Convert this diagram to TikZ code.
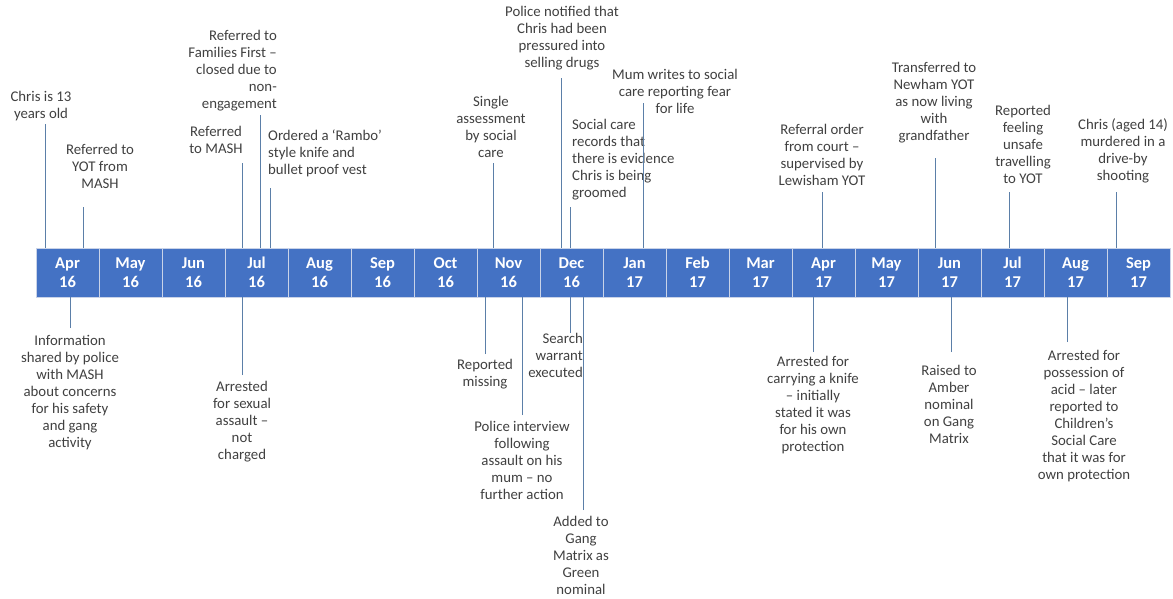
\documentclass[tikz,border=0pt]{standalone}
\usepackage{fontspec}
\setmainfont{Carlito}
\definecolor{barblue}{HTML}{4472C4}
\definecolor{cellline}{HTML}{C9D3E8}
\definecolor{connc}{HTML}{5B7FA8}
\definecolor{txt}{HTML}{404040}
\tikzset{
  cell/.style={fill=barblue, draw=cellline, line width=0.8pt, minimum width=63pt, minimum height=49pt, inner sep=0pt, text=white, font=\fontsize{16.5}{19}\selectfont\bfseries, align=center},
  ev/.style={inner sep=0pt, text=txt, font=\fontsize{14.8}{17}\selectfont, align=center, anchor=north},
  evl/.style={ev, align=left, anchor=north west},
  evr/.style={ev, align=right, anchor=north east},
  link/.style={draw=connc, line width=0.9pt}
}
\begin{document}
\begin{tikzpicture}[x=1pt,y=-1pt]
\useasboundingbox (0,0) rectangle (1173,598);
% timeline bar
\foreach \m/\yy [count=\i from 0] in {Apr/16,May/16,Jun/16,Jul/16,Aug/16,Sep/16,Oct/16,Nov/16,Dec/16,Jan/17,Feb/17,Mar/17,Apr/17,May/17,Jun/17,Jul/17,Aug/17,Sep/17}
  \node[cell] (m\i) at ({67.5+63*\i},272.5) {\m\\\yy};

% events above
\node[ev] (t1) at (41,91) {Chris is 13\\years old};
\node[ev] (t2) at (100,144) {Referred to\\YOT from\\MASH};
\node[ev] (t3) at (216,126) {Referred\\to MASH};
\node[evr] (t4) at (277,30) {Referred to\\Families First –\\closed due to\\non-\\engagement};
\node[evl] (t5) at (268,130) {Ordered a ‘Rambo’\\style knife and\\bullet proof vest};
\node[ev] (t6) at (491,96) {Single\\assessment\\by social\\care};
\node[ev] (t7) at (562,6) {Police notified that\\Chris had been\\pressured into\\selling drugs};
\node[evl] (t8) at (572,119) {Social care\\records that\\there is evidence\\Chris is being\\groomed};
\node[ev] (t9) at (675,69) {Mum writes to social\\care reporting fear\\for life};
\node[ev] (t10) at (822,124) {Referral order\\from court –\\supervised by\\Lewisham YOT};
\node[ev] (t11) at (934,62) {Transferred to\\Newham YOT\\as now living\\with\\grandfather};
\node[ev] (t12) at (1023,105) {Reported\\feeling\\unsafe\\travelling\\to YOT};
\node[ev] (t13) at (1123,118) {Chris (aged 14)\\murdered in a\\drive-by\\shooting};

% events below
\node[ev] (b1) at (70,335) {Information\\shared by police\\with MASH\\about concerns\\for his safety\\and gang\\activity};
\node[ev] (b2) at (242,381) {Arrested\\for sexual\\assault –\\not\\charged};
\node[ev] (b3) at (485,359) {Reported\\missing};
\node[ev] (b4) at (522,421) {Police interview\\following\\assault on his\\mum – no\\further action};
\node[evr] (b5) at (583,333) {Search\\warrant\\executed};
\node[ev] (b6) at (581,516) {Added to\\Gang\\Matrix as\\Green\\nominal};
\node[ev] (b7) at (813,356) {Arrested for\\carrying a knife\\– initially\\stated it was\\for his own\\protection};
\node[ev] (b8) at (949,365) {Raised to\\Amber\\nominal\\on Gang\\Matrix};
\node[ev] (b9) at (1084,350) {Arrested for\\possession of\\acid – later\\reported to\\Children’s\\Social Care\\that it was for\\own protection};

% connector free ends (top)
\coordinate (c1) at (45,124);
\coordinate (c2) at (83,207);
\coordinate (c3) at (242,163);
\coordinate (c4) at (260,115);
\coordinate (c5) at (270,188);
\coordinate (c6) at (493,163);
\coordinate (c7) at (561,78);
\coordinate (c8) at (570,207);
\coordinate (c9) at (643,103);
\coordinate (c10) at (822,192);
\coordinate (c11) at (935,158);
\coordinate (c12) at (1009,192);
\coordinate (c13) at (1116,192);
% connector free ends (bottom)
\coordinate (d1) at (70,328);
\coordinate (d2) at (242,375);
\coordinate (d3) at (485,354);
\coordinate (d4) at (522,415);
\coordinate (d5) at (570,333);
\coordinate (d6) at (583,510);
\coordinate (d7) at (813,352);
\coordinate (d8) at (951,352);
\coordinate (d9) at (1067,342);

\draw[link] (c1) -- (c1 |- m0.north);
\draw[link] (c2) -- (c2 |- m0.north);
\draw[link] (c3) -- (c3 |- m3.north);
\draw[link] (c4) -- (c4 |- m3.north);
\draw[link] (c5) -- (c5 |- m3.north);
\draw[link] (c6) -- (c6 |- m7.north);
\draw[link] (c7) -- (c7 |- m8.north);
\draw[link] (c8) -- (c8 |- m8.north);
\draw[link] (c9) -- (c9 |- m9.north);
\draw[link] (c10) -- (c10 |- m12.north);
\draw[link] (c11) -- (c11 |- m14.north);
\draw[link] (c12) -- (c12 |- m15.north);
\draw[link] (c13) -- (c13 |- m17.north);

\draw[link] (d1) -- (d1 |- m0.south);
\draw[link] (d2) -- (d2 |- m3.south);
\draw[link] (d3) -- (d3 |- m7.south);
\draw[link] (d4) -- (d4 |- m7.south);
\draw[link] (d5) -- (d5 |- m8.south);
\draw[link] (d6) -- (d6 |- m8.south);
\draw[link] (d7) -- (d7 |- m12.south);
\draw[link] (d8) -- (d8 |- m14.south);
\draw[link] (d9) -- (d9 |- m16.south);
\end{tikzpicture}
\end{document}
